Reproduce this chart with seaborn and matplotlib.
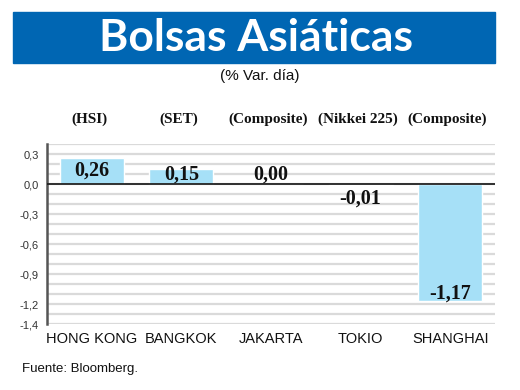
# %% Imports
import numpy as np
import pandas as pd
import matplotlib
matplotlib.use("Agg")
import matplotlib.pyplot as plt
import matplotlib.transforms as mtransforms
from matplotlib.patches import Rectangle
import seaborn as sns

# %% Data
cities = ['HONG KONG', 'BANGKOK', 'JAKARTA', 'TOKIO', 'SHANGHAI']
indices = ['(HSI)', '(SET)', '(Composite)', '(Nikkei 225)', '(Composite)']
values = [0.26, 0.15, 0.00, -0.01, -1.17]
ytick_vals = [0.3, 0.0, -0.3, -0.6, -0.9, -1.2, -1.4]
ytick_labels = ['0,3', '0,0', '-0,3', '-0,6', '-0,9', '-1,2', '-1,4']

df = pd.DataFrame({'Bolsa': cities, 'Var': values})

# %% Style
sns.set_style("white")
plt.rcParams['font.family'] = ['Liberation Sans', 'DejaVu Sans']

bar_color = '#a6e0f7'
title_blue = '#0066b3'

# %% Figure
fig = plt.figure(figsize=(5.2, 3.9), dpi=100)
ax = fig.add_axes([47 / 520, 1 - 324 / 390, 448 / 520, 180 / 390])

# grid every 0.1
for g in np.arange(-1.4, 0.45, 0.1):
    ax.axhline(g, color='#dadada', lw=1.6, zorder=0)

sns.barplot(data=df, x='Bolsa', y='Var', color=bar_color, saturation=1,
            width=0.714, ax=ax, zorder=2)
ax.axhline(0, color='#222222', lw=1.3, zorder=3)

ax.set_xlim(-0.5, 4.5)
ax.set_ylim(-1.4, 0.4)
ax.set_xlabel('')
ax.set_ylabel('')

# value labels
for i, v in enumerate(values):
    if v >= 0:
        ypos = max(v / 2, 0.09)
    else:
        ypos = min(v + 0.07, -0.15)
    ax.text(i, ypos, f'{v:.2f}'.replace('.', ','), ha='center', va='center',
            fontsize=14.5, fontweight='bold', family='Liberation Serif',
            color='#111111', zorder=4)

# index names above
trans = mtransforms.blended_transform_factory(ax.transData, ax.transAxes)
for i, name in enumerate(indices):
    ax.text(i - 0.03, 1.135, name, transform=trans, ha='center', va='center',
            fontsize=11, fontweight='bold', family='Liberation Serif',
            color='#111111')

# axes
ax.set_yticks(ytick_vals)
ax.set_yticklabels(ytick_labels, fontsize=8, color='#333333')
offset = mtransforms.ScaledTranslation(0, 3 / 72, fig.dpi_scale_trans)
for lab in ax.get_yticklabels():
    lab.set_transform(lab.get_transform() + offset)
ax.tick_params(axis='y', length=0, pad=6)
ax.tick_params(axis='x', length=0, pad=6, labelsize=10.5, colors='#111111')
for s in ['top', 'right', 'bottom']:
    ax.spines[s].set_visible(False)
ax.spines['left'].set_color('#555555')
ax.spines['left'].set_linewidth(1.8)

# title banner
fig.patches.append(Rectangle((13 / 520, 1 - 63 / 390), 482 / 520, 51 / 390,
                             transform=fig.transFigure, color=title_blue, zorder=0))
fig.text(256 / 520, 1 - 38 / 390, 'Bolsas Asiáticas', ha='center', va='center',
         fontsize=32, fontweight='bold', color='white', family='Lato')
fig.text(260 / 520, 1 - 76 / 390, '(% Var. día)', ha='center', va='center',
         fontsize=11, color='#111111')
fig.text(22 / 520, 1 - 369 / 390, 'Fuente: Bloomberg.', ha='left', va='center',
         fontsize=9.5, color='#111111')

fig.savefig('out.png', dpi=100)
